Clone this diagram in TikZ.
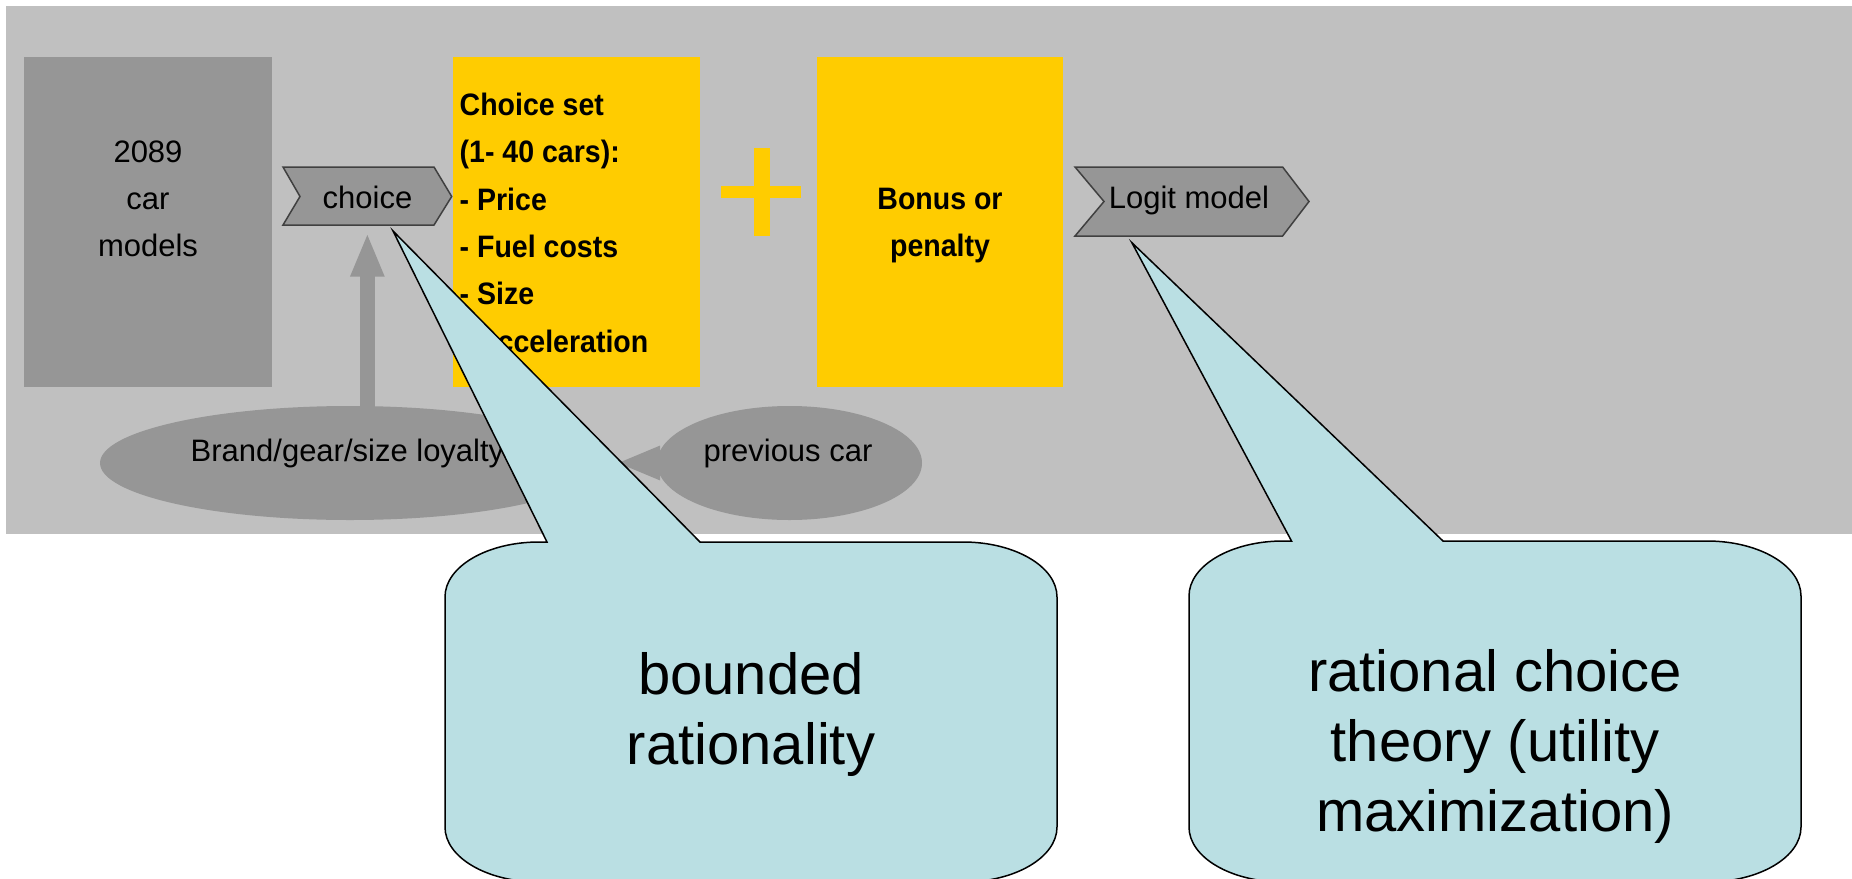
\documentclass[tikz,border=0pt]{standalone}
\usepackage{fontspec}
\setmainfont{Liberation Sans}[BoldFeatures={FakeStretch=0.92}]
\usetikzlibrary{arrows.meta,shapes.geometric}

\definecolor{panel}{HTML}{C0C0C0}
\definecolor{block}{HTML}{969696}
\definecolor{gold}{HTML}{FFCC00}
\definecolor{note}{HTML}{BADFE3}
\definecolor{rim}{HTML}{404040}

\begin{document}
\begin{tikzpicture}[x=1pt,y=-1pt,
  area/.style 2 args={rectangle,inner sep=0pt,outer sep=0pt,
    minimum width=#1,minimum height=#2},
  oval/.style 2 args={ellipse,fill=block,inner sep=0pt,outer sep=0pt,
    minimum width=#1,minimum height=#2},
  chev/.style={fill=block,draw=rim,line width=1.5pt,line join=miter},
  fat/.style={draw=block,line width=15pt,
    -{Triangle[width=31pt,length=44pt]}},
  small/.style={inner sep=0pt,align=center,
    font=\fontsize{31}{47}\selectfont},
  heavy/.style={inner sep=0pt,
    font=\bfseries\fontsize{31}{47.3}\selectfont},
  big/.style={inner sep=0pt,align=center,
    font=\fontsize{58}{70}\selectfont},
  callout/.style={fill=note,draw=black,line width=1.5pt,line join=miter}]

\useasboundingbox (0,0) rectangle (1852,878);
\clip (0,0) rectangle (1852,878);
\fill[white] (0,0) rectangle (1852,878);

% grey panel behind the model
\fill[panel] (6,6) rectangle (1852,534);

% blocks
\node[area={248pt}{330pt},fill=block] (models) at (148,222) {};
\node[area={247pt}{330pt},fill=gold] (choiceset) at (576.5,222) {};
\node[area={246pt}{330pt},fill=gold] (bonus) at (940,222) {};

% plus sign
\fill[gold] (753.6,148) rectangle (770,236);
\fill[gold] (721,186) rectangle (801,198);

% chevrons
\filldraw[chev] (283,167) -- (434,167) -- (451.7,196.5) -- (434,225)
  -- (283,225) -- (300,196.5) -- cycle;
\node[area={168.7pt}{58pt}] (choice) at (367.35,196) {};
\filldraw[chev] (1075,167) -- (1282.6,167) -- (1309,201.5) -- (1282.6,236)
  -- (1075,236) -- (1104,201.5) -- cycle;
\node[area={234pt}{69pt}] (logit) at (1192,201.5) {};

% ellipses
\node[oval={500pt}{114pt}] (loyalty) at (350,463) {};
\node[oval={265pt}{114pt}] (prevcar) at (789.5,463) {};

% arrows
\draw[fat,shorten >=7.7pt,shorten <=-6pt] (choice.south |- loyalty.north) -- (choice.south);
\draw[fat,shorten >=16pt] (prevcar.west) -- (loyalty.east);

% labels (base anchor sits on the last line of a multi-line label)
\node[small,anchor=base] (t2089) at (148,256.6) {2089\\car\\models};
\node[small,anchor=base] (tchoice) at (367.5,208) {choice};
\node[small,anchor=base] (tlogit) at (1189,208.4) {Logit model};
\node[small,anchor=base] (tloyal) at (347.5,461.5) {Brand/gear/size loyalty};
\node[small,anchor=base] (tprev) at (788,461.5) {previous car};
\node[heavy,anchor=base west,align=left] (tset) at (459.5,352)
  {Choice set\\(1- 40 cars):\\- Price\\- Fuel costs\\- Size\\- Acceleration};
\node[heavy,anchor=base,align=center] (tbonus) at (940,256.6) {Bonus or\\penalty};

% callouts
\coordinate (tip1) at (393,231);
\coordinate (tip2) at (1131.8,242.6);
\filldraw[callout] (539,542) -- (547,542) -- (tip1) -- (700,542) -- (963,542)
  .. controls (1014.9,542) and (1057,566.6) .. (1057,597)
  -- (1057,827)
  .. controls (1057,857.4) and (1014.9,882) .. (963,882)
  -- (539,882)
  .. controls (487.1,882) and (445,857.4) .. (445,827)
  -- (445,597)
  .. controls (445,566.6) and (487.1,542) .. (539,542) -- cycle;
\filldraw[callout] (1283,541) -- (1291.5,541) -- (tip2) -- (1443,541) -- (1707,541)
  .. controls (1758.9,541) and (1801,565.6) .. (1801,596)
  -- (1801,827)
  .. controls (1801,857.4) and (1758.9,882) .. (1707,882)
  -- (1283,882)
  .. controls (1231.1,882) and (1189,857.4) .. (1189,827)
  -- (1189,596)
  .. controls (1189,565.6) and (1231.1,541) .. (1283,541) -- cycle;
\node[big,anchor=base] (tbounded) at (751,764) {bounded\\rationality};
\node[big,anchor=base] (trational) at (1495,831)
  {rational choice\\theory (utility\\maximization)};
\end{tikzpicture}
\end{document}
